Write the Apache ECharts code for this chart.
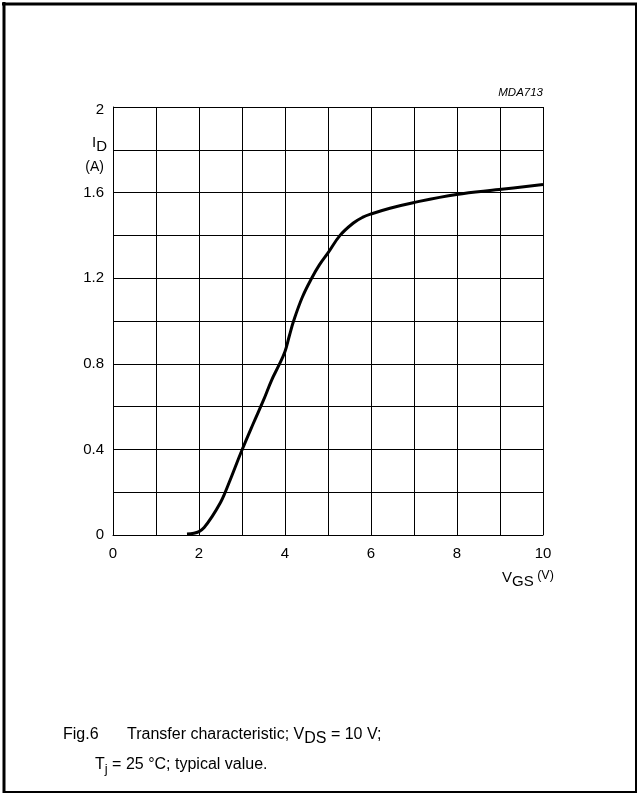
<!DOCTYPE html>
<html>
<head>
<meta charset="utf-8">
<script src="https://cdn.jsdelivr.net/npm/echarts@6/dist/echarts.min.js"></script>
<style>
html,body{margin:0;padding:0;background:#fff;}
#chart{width:639px;height:794px;}
</style>
</head>
<body>
<div id="chart"></div>
<script>
// Data
var vgs = [1.72, 1.88, 2.0, 2.12, 2.3, 2.5, 2.6, 2.75, 3.0, 3.26, 3.5, 3.69, 3.85, 4.0, 4.1, 4.2, 4.4, 4.62, 4.8, 5.0, 5.28, 5.59, 5.8, 6.0, 6.44, 6.98, 7.99, 8.98, 10.0];
var idA = [0.005, 0.008, 0.016, 0.035, 0.085, 0.152, 0.195, 0.27, 0.397, 0.52, 0.63, 0.724, 0.79, 0.858, 0.93, 1.0, 1.11, 1.2, 1.262, 1.318, 1.40, 1.458, 1.484, 1.5, 1.527, 1.553, 1.591, 1.614, 1.638];
var xTickLabels = ['0', '2', '4', '6', '8', '10'];
var yTickLabels = ['0', '0.4', '0.8', '1.2', '1.6', '2'];

var FONT = '"Liberation Sans", Arial, Helvetica, sans-serif';
var points = vgs.map(function (v, i) { return [v, idA[i]]; });

var chart = echarts.init(document.getElementById('chart'), null, {renderer: 'canvas'});
chart.setOption({
  animation: false,
  backgroundColor: '#fff',
  grid: {left: 113, right: 96, top: 107, bottom: 259, containLabel: false},
  xAxis: {
    type: 'value', min: 0, max: 10, interval: 1,
    axisLine: {show: true, lineStyle: {color: '#000', width: 1}},
    axisTick: {show: false},
    splitLine: {show: true, lineStyle: {color: '#000', width: 1}},
    axisLabel: {
      margin: 11, fontSize: 15, color: '#000', fontFamily: FONT,
      formatter: function (v) { var s = String(Math.round(v)); return xTickLabels.indexOf(s) >= 0 ? s : ''; }
    }
  },
  yAxis: {
    type: 'value', min: 0, max: 2, interval: 0.2,
    axisLine: {show: true, lineStyle: {color: '#000', width: 1}},
    axisTick: {show: false},
    splitLine: {show: true, lineStyle: {color: '#000', width: 1}},
    axisLabel: {
      margin: 9, fontSize: 15, color: '#000', fontFamily: FONT,
      formatter: function (v) {
        var s = String(Math.round(v * 10) / 10);
        if (yTickLabels.indexOf(s) < 0) return '';
        return s === '2' ? '{top|' + s + '}' : s;
      },
      rich: {top: {fontSize: 15, fontFamily: FONT, color: '#000', padding: [6, 0, 0, 0]}}
    }
  },
  series: [{
    type: 'line', data: points, smooth: 0.4, symbol: 'none',
    lineStyle: {color: '#000', width: 3}
  }],
  graphic: [
    {type: 'line', shape: {x1: 4, y1: 2, x2: 4, y2: 793}, style: {stroke: '#000', lineWidth: 3}},
    {type: 'line', shape: {x1: 2, y1: 4, x2: 637, y2: 4}, style: {stroke: '#000', lineWidth: 3}},
    {type: 'line', shape: {x1: 636, y1: 3, x2: 636, y2: 793}, style: {stroke: '#000', lineWidth: 2}},
    {type: 'line', shape: {x1: 3, y1: 792, x2: 637, y2: 792}, style: {stroke: '#000', lineWidth: 2}},
    {type: 'text', x: 543, y: 93, style: {text: 'MDA713', font: 'italic 11.5px ' + FONT, fill: '#000', textAlign: 'right', textVerticalAlign: 'middle'}},
    {type: 'text', x: 107, y: 143, style: {
      text: '{i|I}{s|D}', textAlign: 'right', textVerticalAlign: 'middle',
      rich: {i: {fontSize: 15, fontFamily: FONT, color: '#000'}, s: {fontSize: 15, fontFamily: FONT, color: '#000', padding: [8, 0, 0, 0]}}
    }},
    {type: 'text', x: 104, y: 167, style: {text: '(A)', font: '14px ' + FONT, fill: '#000', textAlign: 'right', textVerticalAlign: 'middle'}},
    {type: 'text', x: 502, y: 578, style: {
      text: '{v|V}{s|GS}{u| (V)}', textAlign: 'left', textVerticalAlign: 'middle',
      rich: {v: {fontSize: 15, fontFamily: FONT, color: '#000'}, s: {fontSize: 15, fontFamily: FONT, color: '#000', padding: [8, 0, 0, 0]}, u: {fontSize: 12.5, fontFamily: FONT, color: '#000', padding: [0, 0, 4, 0]}}
    }},
    {type: 'text', x: 63, y: 735, style: {text: 'Fig.6', font: '16px ' + FONT, fill: '#000', textVerticalAlign: 'middle'}},
    {type: 'text', x: 127, y: 735, style: {
      text: '{t|Transfer characteristic; V}{s|DS}{t| = 10 V;}', textVerticalAlign: 'middle',
      rich: {t: {fontSize: 16, fontFamily: FONT, color: '#000'}, s: {fontSize: 16, fontFamily: FONT, color: '#000', padding: [8, 0, 0, 0]}}
    }},
    {type: 'text', x: 95, y: 765, style: {
      text: '{t|T}{s|j}{t| = 25 °C; typical value.}', textVerticalAlign: 'middle',
      rich: {t: {fontSize: 16, fontFamily: FONT, color: '#000'}, s: {fontSize: 13, fontFamily: FONT, color: '#000', padding: [8, 0, 0, 0]}}
    }}
  ]
});
</script>
</body>
</html>
